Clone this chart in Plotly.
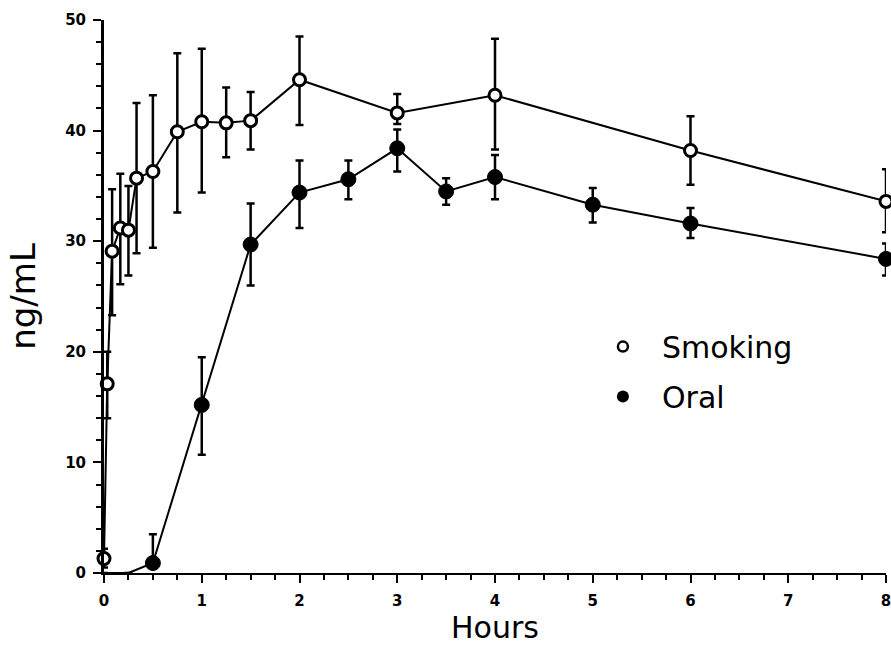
import plotly.graph_objects as go

# Plasma concentration (ng/mL) over time (hours), mean with error bounds
smoking_hours = [0, 0.033, 0.083, 0.167, 0.25, 0.333, 0.5, 0.75, 1.0, 1.25, 1.5, 2.0, 3.0, 4.0, 6.0, 8.0]
smoking_mean = [1.3, 17.1, 29.1, 31.2, 31.0, 35.7, 36.3, 39.9, 40.8, 40.7, 40.9, 44.6, 41.6, 43.2, 38.2, 33.6]
smoking_upper = [2.2, 20.0, 34.7, 36.1, 35.0, 42.5, 43.2, 47.0, 47.4, 43.9, 43.5, 48.5, 43.3, 48.3, 41.3, 36.5]
smoking_lower = [0.5, 14.0, 23.3, 26.1, 26.9, 28.9, 29.4, 32.6, 34.4, 37.6, 38.3, 40.5, 40.6, 38.3, 35.1, 30.8]

oral_hours = [0, 0.25, 0.5, 1.0, 1.5, 2.0, 2.5, 3.0, 3.5, 4.0, 5.0, 6.0, 8.0]
oral_mean = [0, 0, 0.9, 15.2, 29.7, 34.4, 35.6, 38.4, 34.5, 35.8, 33.3, 31.6, 28.4]
oral_upper = [0, 0, 3.5, 19.5, 33.4, 37.3, 37.3, 40.1, 35.7, 37.8, 34.8, 33.0, 29.8]
oral_lower = [0, 0, 0.9, 10.7, 26.0, 31.2, 33.8, 36.3, 33.3, 33.8, 31.7, 30.3, 26.9]

x_ticks = [0, 1, 2, 3, 4, 5, 6, 7, 8]
y_ticks = [0, 10, 20, 30, 40, 50]

INK = "black"
LABEL_FONT = "DejaVu Sans"
PAD = "\u00a0\u00a0"


def spans(mean, upper, lower):
    plus = [round(u - m, 3) for u, m in zip(upper, mean)]
    minus = [round(m - l, 3) for m, l in zip(mean, lower)]
    return plus, minus


s_plus, s_minus = spans(smoking_mean, smoking_upper, smoking_lower)
o_plus, o_minus = spans(oral_mean, oral_upper, oral_lower)

# oral baseline points before absorption carry no marker
oral_sizes = [0 if m == 0 else 15 for m in oral_mean]

fig = go.Figure()

fig.add_trace(go.Scatter(
    x=oral_hours, y=oral_mean, mode="lines+markers", showlegend=False,
    line=dict(color=INK, width=2),
    marker=dict(symbol="circle", size=oral_sizes, color=INK, opacity=1,
                line=dict(color=INK, width=1)),
    error_y=dict(type="data", symmetric=False, array=o_plus, arrayminus=o_minus,
                 color=INK, thickness=2.5, width=4),
    cliponaxis=False,
))

fig.add_trace(go.Scatter(
    x=smoking_hours, y=smoking_mean, mode="lines+markers", showlegend=False,
    line=dict(color=INK, width=2),
    marker=dict(symbol="circle", size=12, color="white", opacity=1,
                line=dict(color=INK, width=3)),
    error_y=dict(type="data", symmetric=False, array=s_plus, arrayminus=s_minus,
                 color=INK, thickness=2.5, width=4),
    cliponaxis=False,
))

# legend entries (marker only)
fig.add_trace(go.Scatter(
    x=[None], y=[None], mode="markers", name=PAD + "Smoking", legendgroup="a",
    marker=dict(symbol="circle", size=10, color="white", line=dict(color=INK, width=2.5)),
))
fig.add_trace(go.Scatter(
    x=[None], y=[None], mode="markers", name=PAD + "Oral", legendgroup="b",
    marker=dict(symbol="circle", size=12, color=INK),
))

axis_common = dict(
    showgrid=False, zeroline=False, showline=True, linecolor=INK, automargin=False,
    ticks="outside", tickcolor=INK, tickwidth=2, ticklen=8,
    ticklabeloverflow="allow",
    tickfont=dict(family=LABEL_FONT, size=15, color=INK, weight="bold"),
)

fig.update_xaxes(
    **axis_common, range=[0, 8], tickvals=x_ticks, ticktext=[str(v) for v in x_ticks],
    linewidth=2, ticklabelstandoff=5,
    minor=dict(dtick=0.25, ticks="outside", ticklen=5, tickwidth=2, tickcolor=INK),
    title=dict(text="Hours", standoff=19,
               font=dict(family=LABEL_FONT, size=30, color=INK)),
)
fig.update_yaxes(
    **axis_common, range=[0, 50], tickvals=y_ticks, ticktext=[str(v) for v in y_ticks],
    linewidth=3, ticklabelstandoff=4,
    minor=dict(dtick=2, ticks="outside", ticklen=5, tickwidth=2, tickcolor=INK),
    title=dict(text="ng/mL", standoff=20,
               font=dict(family=LABEL_FONT, size=34, color=INK)),
)

fig.update_layout(
    width=891, height=645,
    margin=dict(l=104, r=5, t=20, b=72),
    paper_bgcolor="white", plot_bgcolor="white",
    legend=dict(
        x=0.638, y=0.272, xanchor="left", yanchor="bottom",
        font=dict(family=LABEL_FONT, size=30, color=INK),
        bgcolor="rgba(0,0,0,0)", traceorder="grouped", tracegroupgap=8,
        itemsizing="trace",
    ),
)

fig.write_html("out.html")
